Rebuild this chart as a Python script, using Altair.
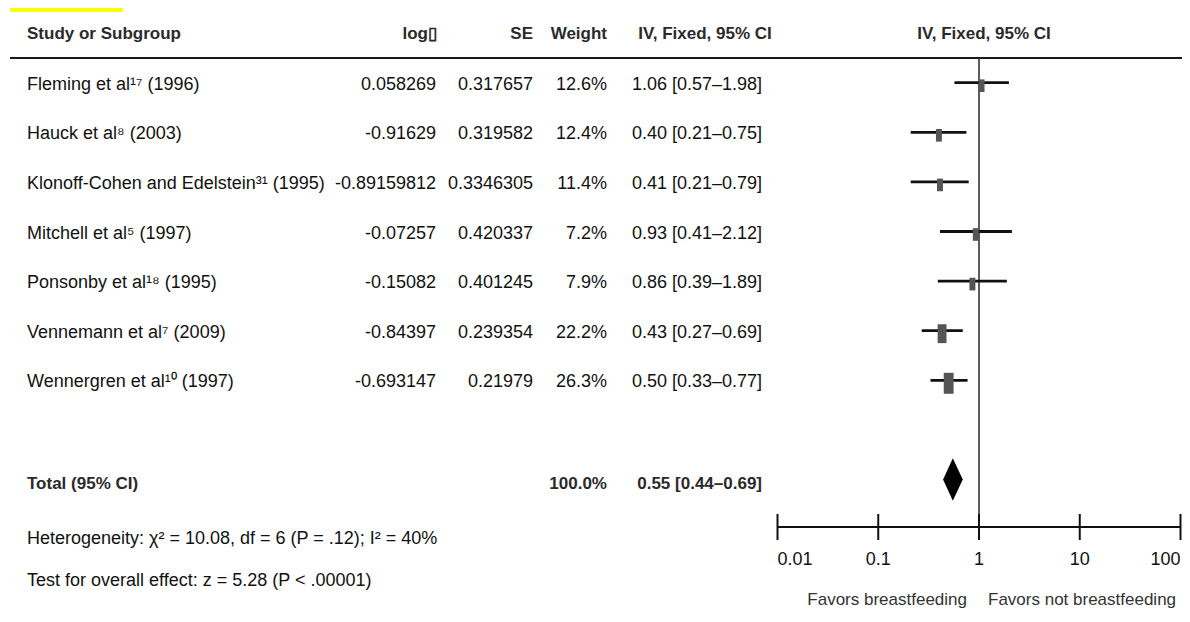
import altair as alt
import pandas as pd

# ---------------- data ----------------
studies = [
    "Fleming et al¹⁷ (1996)",
    "Hauck et al⁸ (2003)",
    "Klonoff-Cohen and Edelstein³¹ (1995)",
    "Mitchell et al⁵ (1997)",
    "Ponsonby et al¹⁸ (1995)",
    "Vennemann et al⁷ (2009)",
    "Wennergren et al¹⁰ (1997)",
]
log_or = ["0.058269", "-0.91629", "-0.89159812", "-0.07257", "-0.15082", "-0.84397", "-0.693147"]
se = ["0.317657", "0.319582", "0.3346305", "0.420337", "0.401245", "0.239354", "0.21979"]
weights = [12.6, 12.4, 11.4, 7.2, 7.9, 22.2, 26.3]
or_est = [1.06, 0.40, 0.41, 0.93, 0.86, 0.43, 0.50]
ci_low = [0.57, 0.21, 0.21, 0.41, 0.39, 0.27, 0.33]
ci_high = [1.98, 0.75, 0.79, 2.12, 1.89, 0.69, 0.77]

total_label = "Total (95% CI)"
total_weight = 100.0
total_or = 0.55
total_low = 0.44
total_high = 0.69

headers = ["Study or Subgroup", "log\u25af", "SE", "Weight", "IV, Fixed, 95% CI"]
forest_header = "IV, Fixed, 95% CI"
axis_ticks = [0.01, 0.1, 1, 10, 100]
tick_labels = ["0.01", "0.1", "1", "10", "100"]
favors = ["Favors breastfeeding", "Favors not breastfeeding"]
het_text = "Heterogeneity: χ² = 10.08, df = 6 (P = .12); I² = 40%"
effect_text = "Test for overall effect: z = 5.28 (P < .00001)"

# ---------------- layout / style ----------------
FONT = "Liberation Sans, Arial, sans-serif"
FS = 18
FS_B = 17
W, H = 1174, 600
COL_STUDY, COL_LOG, COL_SE, COL_W, COL_CI = 19, 428, 525, 599, 754
TOTAL_ROW = 8
DIAMOND_HALF = 0.43
SQUARE = "M-0.47,-1L0.47,-1L0.47,1L-0.47,1Z"
INK = "#111111"
HEAD = "#2a2a2a"

xscale = alt.Scale(type="log", domain=[0.01, 100], range=[769.5, 1172.5])
yscale = alt.Scale(domain=[0, 10], range=[74.7, 570.7])

rows = pd.DataFrame({
    "study": studies,
    "log_txt": log_or,
    "se_txt": se,
    "weight": weights,
    "or": or_est,
    "lo": ci_low,
    "hi": ci_high,
    "row": list(range(len(studies))),
})
rows["w_txt"] = [f"{w:.1f}%" for w in weights]
rows["ci_txt"] = [f"{o:.2f} [{l:.2f}\u2013{h:.2f}]" for o, l, h in zip(or_est, ci_low, ci_high)]

one = pd.DataFrame({"a": [0]})


def Y():
    return alt.Y("row:Q", scale=yscale, axis=None)


def X(f):
    return alt.X(f, scale=xscale, axis=None)


layers = []

# yellow tag
layers.append(alt.Chart(one).mark_rect(color="#FFFF00").encode(
    x=alt.value(2), x2=alt.value(115), y=alt.value(0), y2=alt.value(4)))

# header rule
layers.append(alt.Chart(one).mark_rule(color="#1a1a1a", strokeWidth=2.2).encode(
    x=alt.value(2), x2=alt.value(W), y=alt.value(50)))

# headers
hdr_layout = [(COL_STUDY, "left"), (COL_LOG + 1, "right"), (COL_SE, "right"), (COL_W, "right"), (697, "center")]
for lab, (hx, al) in zip(headers, hdr_layout):
    layers.append(alt.Chart(pd.DataFrame({"t": [lab]})).mark_text(
        font=FONT, fontSize=FS_B, fontWeight="bold", color=HEAD, align=al, baseline="middle"
    ).encode(x=alt.value(hx), y=alt.value(26), text="t:N"))

layers.append(alt.Chart(pd.DataFrame({"t": [forest_header], "x": [1]})).mark_text(
    font=FONT, fontSize=FS_B, fontWeight="bold", color=HEAD, align="center", baseline="middle", dx=5
).encode(x=X("x:Q"), y=alt.value(26), text="t:N"))

# row texts
for field, cx, al in [("study", COL_STUDY, "left"), ("log_txt", COL_LOG, "right"),
                      ("se_txt", COL_SE, "right"), ("w_txt", COL_W, "right"), ("ci_txt", COL_CI, "right")]:
    layers.append(alt.Chart(rows).mark_text(
        font=FONT, fontSize=FS, color=INK, align=al, baseline="middle", dy=2
    ).encode(x=alt.value(cx), y=Y(), text=f"{field}:N"))

# vertical line of no effect
layers.append(alt.Chart(pd.DataFrame({"x": [1]})).mark_rule(color="#333333", strokeWidth=1.6).encode(
    x=X("x:Q"), y=alt.value(50), y2=alt.value(519)))

# CI lines
layers.append(alt.Chart(rows).mark_rule(color=INK, strokeWidth=2.8).encode(
    x=X("lo:Q"), x2="hi:Q", y=Y()))

# squares
layers.append(alt.Chart(rows).mark_point(shape=SQUARE, filled=True, opacity=1, color="#555555", yOffset=3).encode(
    x=X("or:Q"), y=Y(),
    size=alt.Size("weight:Q", scale=alt.Scale(domain=[12.6, 26.3], range=[160, 440], clamp=True), legend=None)))

# diamond
dia = pd.DataFrame({"x": [total_low, total_or, total_high], "peak": [0, 1, 0]})
layers.append(alt.Chart(dia).transform_calculate(
    ytop=f"{TOTAL_ROW} - {DIAMOND_HALF} * datum.peak",
    ybot=f"{TOTAL_ROW} + {DIAMOND_HALF} * datum.peak",
).mark_area(color="black", opacity=1).encode(
    x=X("x:Q"), y=alt.Y("ytop:Q", scale=yscale, axis=None), y2="ybot:Q"))

# total texts
tot = pd.DataFrame({"row": [TOTAL_ROW], "lab": [total_label], "w": [f"{total_weight:.1f}%"],
                    "ci": [f"{total_or:.2f} [{total_low:.2f}\u2013{total_high:.2f}]"]})
for field, cx, al in [("lab", COL_STUDY, "left"), ("w", COL_W, "right"), ("ci", COL_CI, "right")]:
    layers.append(alt.Chart(tot).mark_text(
        font=FONT, fontSize=FS_B, fontWeight="bold", color=HEAD, align=al, baseline="middle", dy=4
    ).encode(x=alt.value(cx), y=Y(), text=f"{field}:N"))

# footer texts
for txt, fy in [(het_text, 531), (effect_text, 573)]:
    layers.append(alt.Chart(pd.DataFrame({"t": [txt]})).mark_text(
        font=FONT, fontSize=FS, color=INK, align="left", baseline="middle"
    ).encode(x=alt.value(COL_STUDY), y=alt.value(fy), text="t:N"))

# axis line
layers.append(alt.Chart(pd.DataFrame({"a": [axis_ticks[0]], "b": [axis_ticks[-1]]})).mark_rule(
    color=INK, strokeWidth=2).encode(x=X("a:Q"), x2="b:Q", y=alt.value(519)))

# ticks
ticks = pd.DataFrame({"v": axis_ticks, "lab": tick_labels})
layers.append(alt.Chart(ticks).mark_rule(color=INK, strokeWidth=2).encode(
    x=X("v:Q"), y=alt.value(506), y2=alt.value(532)))

# tick labels
n = len(axis_ticks)
for sub, al in [(ticks.iloc[[0]], "left"), (ticks.iloc[1:n - 1], "center"), (ticks.iloc[[n - 1]], "right")]:
    layers.append(alt.Chart(sub).mark_text(
        font=FONT, fontSize=FS, color=INK, align=al, baseline="middle"
    ).encode(x=X("v:Q"), y=alt.value(552), text="lab:N"))

# favours labels
fav = pd.DataFrame({"x": [1], "l": [favors[0]], "r": [favors[1]]})
layers.append(alt.Chart(fav).mark_text(
    font=FONT, fontSize=17, color="#333333", align="right", baseline="middle", dx=-12
).encode(x=X("x:Q"), y=alt.value(592), text="l:N"))
layers.append(alt.Chart(fav).mark_text(
    font=FONT, fontSize=17, color="#333333", align="left", baseline="middle", dx=9
).encode(x=X("x:Q"), y=alt.value(592), text="r:N"))

chart = alt.layer(*layers).properties(
    width=W, height=H,
    autosize=alt.AutoSizeParams(type="none"),
    padding=0,
    background="white",
).configure_view(stroke=None)

chart.save("out.html", embed_options={"renderer": "svg", "actions": False})
